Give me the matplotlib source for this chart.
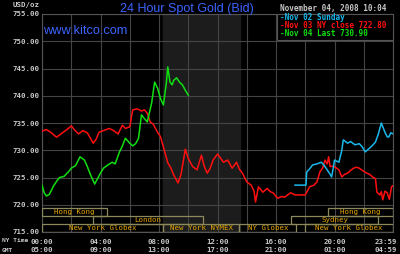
import matplotlib
matplotlib.use("Agg")
import matplotlib.pyplot as plt
from matplotlib.patches import Rectangle
from matplotlib.transforms import ScaledTranslation

# values (hour of NY day, USD/oz)
red_hours = [0.0, 0.3, 0.6, 0.9, 1.0, 1.3, 1.6, 1.9, 2.0, 2.2, 2.5, 2.8, 3.1, 3.4, 3.5, 3.7,
             3.9, 4.2, 4.6, 4.9, 5.2, 5.5, 5.7, 6.0, 6.2, 6.5, 6.8, 7.0, 7.2, 7.4, 7.6, 7.9,
             8.1, 8.3, 8.6, 8.8, 9.0, 9.3, 9.5, 9.8, 10.0, 10.3, 10.6, 10.9, 11.1, 11.3, 11.5,
             11.7, 12.0, 12.2, 12.4, 12.7, 13.0, 13.3, 13.5, 13.7, 14.0, 14.3, 14.5, 14.6,
             14.8, 15.1, 15.4, 15.6, 15.8, 16.1, 16.4, 16.6, 17.0, 17.3, 17.6, 18.0, 18.3,
             18.6, 18.8, 19.0, 19.2, 19.35, 19.5, 19.6, 19.7, 19.9, 20.1, 20.3, 20.5, 20.7,
             20.9, 21.1, 21.3, 21.5, 21.7, 21.9, 22.2, 22.4, 22.6, 22.8, 22.9, 23.1, 23.2,
             23.3, 23.45, 23.6, 23.75, 23.9, 24.0]
red_vals = [733.5, 733.8, 733.3, 732.6, 732.4, 733.0, 733.6, 734.2, 734.5, 733.8, 733.0, 733.6,
            733.2, 731.8, 731.3, 732.0, 733.3, 733.6, 734.0, 733.6, 733.0, 734.6, 734.0, 734.3,
            737.4, 737.6, 737.2, 737.4, 736.8, 735.2, 734.8, 733.3, 732.5, 730.6, 727.7, 726.8,
            725.5, 724.0, 725.5, 730.2, 728.5, 727.0, 726.4, 729.1, 727.0, 725.8, 726.7, 728.2,
            729.3, 728.6, 727.8, 728.2, 726.7, 727.8, 726.5, 725.8, 724.2, 723.6, 722.5, 720.5,
            723.3, 722.3, 723.0, 722.4, 722.2, 721.2, 721.5, 721.4, 722.2, 721.8, 721.8, 721.8,
            723.3, 723.6, 724.2, 726.0, 726.8, 728.2, 727.5, 728.8, 727.0, 727.1, 726.8, 726.4,
            725.1, 725.6, 725.8, 726.3, 726.7, 726.9, 726.7, 726.3, 725.8, 725.6, 725.1, 724.8,
            722.3, 721.8, 722.4, 720.9, 722.5, 722.2, 721.0, 723.3, 723.5]

green_hours = [0.0, 0.15, 0.3, 0.5, 0.8, 1.0, 1.2, 1.5, 1.8, 2.0, 2.3, 2.6, 2.9, 3.1, 3.3, 3.6,
               3.8, 4.0, 4.2, 4.5, 4.8, 5.0, 5.3, 5.5, 5.7, 6.0, 6.2, 6.4, 6.6, 6.8, 7.0, 7.2,
               7.5, 7.7, 7.9, 8.1, 8.3, 8.5, 8.6, 8.75, 8.9, 9.0, 9.2, 9.4, 9.6, 9.8, 10.0]
green_vals = [723.6, 722.2, 721.6, 721.9, 723.5, 724.3, 725.0, 725.2, 726.0, 726.7, 727.2, 728.8,
              728.2, 727.0, 725.6, 723.8, 724.8, 725.8, 726.7, 727.3, 727.8, 727.5, 729.7, 730.8,
              732.2, 731.3, 730.8, 731.2, 732.2, 736.5, 735.8, 735.2, 738.7, 742.5, 741.4, 739.5,
              738.3, 742.3, 745.3, 742.5, 742.0, 742.8, 743.3, 742.5, 742.0, 741.0, 740.1]

cyan_hours = [17.3, 18.05, 18.1, 18.3, 18.5, 18.8, 19.1, 19.3, 19.5, 19.7, 19.8, 19.9, 20.0,
              20.3, 20.5, 20.6, 20.9, 21.1, 21.4, 21.7, 21.9, 22.1, 22.4, 22.6, 22.8, 23.0,
              23.2, 23.45, 23.6, 23.7, 23.85, 24.0]
cyan_vals = [723.6, 723.6, 726.0, 726.6, 727.3, 727.5, 727.8, 727.2, 726.4, 725.6, 725.1, 726.5,
             728.2, 727.8, 730.0, 731.9, 731.3, 731.6, 731.0, 731.2, 730.6, 729.7, 730.4, 730.9,
             731.5, 733.0, 735.0, 733.3, 732.5, 732.4, 733.2, 733.0]

tick_hours = [0, 4, 8, 12, 16, 20, 23.983]
ny_labels = ["00:00", "04:00", "08:00", "12:00", "16:00", "20:00", "23:59"]
gmt_labels = ["05:00", "09:00", "13:00", "17:00", "21:00", "01:00", "04:59"]

# trading sessions: (row, name, start hour, end hour)
sessions = [
    (0, "Hong Kong", 0.0, 4.45), (0, "Hong Kong", 19.55, 24.0),
    (1, "London", 3.5, 11.0), (1, "Sydney", 17.0, 23.0),
    (2, "New York Globex", 0.0, 8.27), (2, "New York NYMEX", 8.27, 13.5),
    (2, "NY Globex", 13.5, 17.4), (2, "New York Globex", 18.0, 24.0),
]
nymex_open, nymex_close = 8.27, 13.55

legend_lines = [("-Nov 02 Sunday", "#19b8ec"),
                ("-Nov 03 NY close 722.80", "#ff1010"),
                ("-Nov 04 Last 730.90", "#10e010")]

mono = "DejaVu Sans Mono"
gray_txt = "#c8c8c8"
blue = "#3c64ff"

fig = plt.figure(figsize=(4.0, 2.54), dpi=100, facecolor="black")
ax = fig.add_axes([42 / 400, 22 / 254, 351 / 400, 218 / 254], facecolor="black")
ax.set_xlim(0, 24)
ax.set_ylim(715, 755)

ax.axvspan(nymex_open, nymex_close, color="#1b1c1b", zorder=0)
for h in range(0, 25, 2):
    ax.axvline(h, color="#454545", lw=0.8, zorder=1)
for v in range(715, 756, 5):
    ax.axhline(v, color="#454545", lw=0.8, zorder=1)

ax.plot(red_hours, red_vals, color="#ff1010", lw=1.1, zorder=3)
ax.plot(green_hours, green_vals, color="#10e010", lw=1.1, zorder=3)
ax.plot(cyan_hours, cyan_vals, color="#19b8ec", lw=1.1, zorder=3)

row_edges = [719.45, 717.95, 716.5, 715.0]
for row, name, start, end in sessions:
    top, bot = row_edges[row], row_edges[row + 1]
    ax.add_patch(Rectangle((start, bot), end - start, top - bot, fill=False,
                           edgecolor="#8c8a5c", lw=0.9, zorder=4))
    ax.text((start + end) / 2, (top + bot) / 2, name, color="#e8a800", fontsize=5.3,
            family=mono, ha="center", va="center", zorder=5)

ax.set_yticks(range(715, 756, 5))
ax.set_yticklabels(["%.2f" % v for v in range(715, 756, 5)])
ax.set_xticks(tick_hours)
ax.set_xticklabels([a + "\n" + b for a, b in zip(ny_labels, gmt_labels)], linespacing=1.35)
ax.tick_params(axis="both", length=0, colors=gray_txt, labelsize=5.3, pad=2)
ax.tick_params(axis="x", pad=5)
for lab in ax.get_xticklabels() + ax.get_yticklabels():
    lab.set_family(mono)
    lab.set_weight("bold")
last = ax.get_xticklabels()[-1]
last.set_transform(last.get_transform() + ScaledTranslation(-7 / 100, 0, fig.dpi_scale_trans))
for s in ax.spines.values():
    s.set_color("#555555")
    s.set_linewidth(0.8)

# legend box
lx0, ly0 = 277 / 400, 1 - 40 / 254
legend_bg = Rectangle((lx0, ly0), 116 / 400, 26 / 254, transform=fig.transFigure,
                      facecolor="black", edgecolor="#555555", lw=0.8, zorder=6)
fig.patches.append(legend_bg)
for i, (txt, col) in enumerate(legend_lines):
    fig.text(280 / 400, 1 - (18 + 8 * i) / 254, txt, color=col, fontsize=5.5, family=mono,
             weight="bold", va="center", ha="left", zorder=7)

fig.text(186.5 / 400, 1 - 9 / 254, "24 Hour Spot Gold (Bid)", color=blue, fontsize=9,
         family="Liberation Sans", ha="center", va="center")
fig.text(43 / 400, 1 - 31 / 254, "www.kitco.com", color=blue, fontsize=9.2,
         family="Liberation Sans", ha="left", va="center")
fig.text(386 / 400, 1 - 9 / 254, "November 04, 2008 10:04", color=gray_txt, fontsize=5.5,
         family=mono, weight="bold", ha="right", va="center")
fig.text(40 / 400, 1 - 5 / 254, "USD/oz", color=gray_txt, fontsize=5.3, family=mono,
         weight="bold", ha="right", va="center")
fig.text(2 / 400, 1 - 241 / 254, "NY Time", color=gray_txt, fontsize=4.5, family=mono,
         weight="bold", ha="left", va="center")
fig.text(2 / 400, 1 - 250 / 254, "GMT", color=gray_txt, fontsize=4.5, family=mono,
         weight="bold", ha="left", va="center")

fig.savefig("out.png", dpi=100, facecolor="black")
